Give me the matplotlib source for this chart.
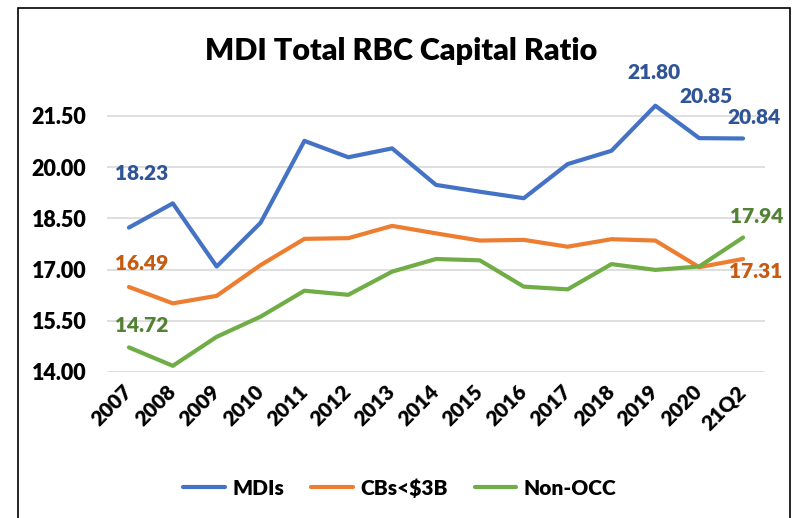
import numpy as np
import matplotlib
matplotlib.use("Agg")
import matplotlib.pyplot as plt
from matplotlib.patches import Rectangle

plt.rcParams['font.family'] = ['Lato', 'DejaVu Sans']
plt.rcParams['font.weight'] = 'bold'

periods = ['2007', '2008', '2009', '2010', '2011', '2012', '2013', '2014',
           '2015', '2016', '2017', '2018', '2019', '2020', '21Q2']
mdis = [18.23, 18.94, 17.09, 18.37, 20.77, 20.29, 20.55, 19.48,
        19.28, 19.09, 20.09, 20.48, 21.80, 20.85, 20.84]
cbs = [16.49, 16.01, 16.23, 17.13, 17.90, 17.92, 18.28, 18.06,
       17.85, 17.87, 17.67, 17.89, 17.85, 17.07, 17.31]
non_occ = [14.72, 14.18, 15.03, 15.62, 16.38, 16.26, 16.94, 17.31,
           17.27, 16.50, 16.42, 17.16, 16.99, 17.09, 17.94]
y_ticks = [14.0, 15.5, 17.0, 18.5, 20.0, 21.5]

fig = plt.figure(figsize=(7.95, 5.18), dpi=100)
ax = fig.add_axes([0.1346, 0.2819, 0.8277, 0.5931])

x = np.arange(len(periods))
ax.plot(x, mdis, color='#4472C4', lw=3.0, label='MDIs', solid_capstyle='round')
ax.plot(x, cbs, color='#ED7D31', lw=3.0, label='CBs<$3B', solid_capstyle='round')
ax.plot(x, non_occ, color='#70AD47', lw=3.0, label='Non-OCC', solid_capstyle='round')

ax.set_xlim(-0.5, len(periods) - 0.5)
ax.set_ylim(14, 23)
ax.set_yticks(y_ticks)
ax.set_yticklabels(['%.2f' % v for v in y_ticks], fontsize=15.5, fontweight='heavy')
ax.set_xticks(x)
ax.set_xticklabels(periods, rotation=45, ha='right', va='center',
                   rotation_mode='anchor', fontsize=15, fontweight='heavy')
ax.tick_params(axis='both', length=0)
ax.tick_params(axis='y', pad=15)
ax.tick_params(axis='x', pad=12)
ax.grid(axis='y', color='#D9D9D9', lw=1.2)
ax.set_axisbelow(True)
for s in ax.spines.values():
    s.set_visible(False)

blue_lab = '#2F5597'
orange_lab = '#C55A11'
green_lab = '#548235'
fs = 15


def label(series, i, dx, dy, color):
    ax.annotate('%.2f' % series[i], (i, series[i]), xytext=(dx, dy),
                textcoords='offset points', ha='center', va='center',
                color=color, fontsize=fs, fontweight='heavy')


label(mdis, 0, 9, 39, blue_lab)
label(cbs, 0, 9, 17, orange_lab)
label(non_occ, 0, 9, 16, green_lab)
label(mdis, 12, -1, 24, blue_lab)
label(mdis, 13, 5, 30, blue_lab)
label(mdis, 14, 8, 15, blue_lab)
label(non_occ, 14, 10, 15, green_lab)
label(cbs, 14, 9, -9, orange_lab)

fig.text(0.505, 0.902, 'MDI Total RBC Capital Ratio', ha='center', va='center',
         fontsize=22, fontweight='heavy')

fig.legend(loc='center', bbox_to_anchor=(0.503, 0.058), ncol=3, frameon=False,
           handlelength=2.0, columnspacing=1.3, handletextpad=0.35,
           prop={'weight': 'heavy', 'size': 15})

fig.patches.append(Rectangle((18 / 795, -0.01), (790 - 18) / 795, 1 - 8 / 518 + 0.01,
                             transform=fig.transFigure, fill=False, edgecolor='black', lw=1.2))

fig.savefig('out.png', dpi=100)
